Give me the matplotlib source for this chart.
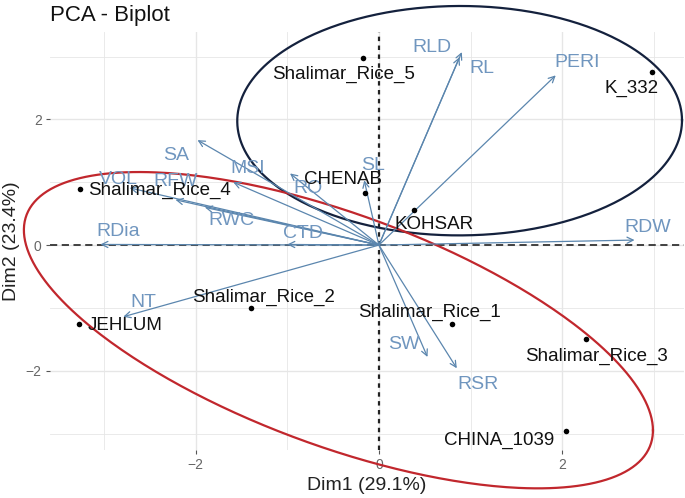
import numpy as np
import matplotlib
matplotlib.use('Agg')
import matplotlib.pyplot as plt

plt.rcParams['font.family'] = ['Liberation Sans', 'DejaVu Sans']

# ---- individuals (Dim1, Dim2 coordinates) ----
ind_names = ['Shalimar_Rice_5', 'K_332', 'CHENAB', 'KOHSAR', 'Shalimar_Rice_4',
             'JEHLUM', 'Shalimar_Rice_2', 'Shalimar_Rice_1', 'Shalimar_Rice_3', 'CHINA_1039']
ind_dim1 = [-0.17, 2.98, -0.15, 0.38, -3.26, -3.27, -1.40, 0.80, 2.26, 2.04]
ind_dim2 = [2.98, 2.75, 0.83, 0.56, 0.89, -1.26, -1.00, -1.26, -1.50, -2.96]

# ---- variables (arrow tips) ----
var_names = ['RLD', 'RL', 'PERI', 'RDW', 'SL', 'RO', 'MSI', 'SA', 'VOL', 'RFW',
             'RWC', 'RDia', 'CTD', 'NT', 'SW', 'RSR']
var_dim1 = [0.905, 0.88, 1.93, 2.79, -0.16, -0.97, -1.59, -1.98, -2.72, -2.22,
            -1.90, -3.04, -1.00, -2.79, 0.53, 0.85]
var_dim2 = [3.07, 2.99, 2.70, 0.08, 1.03, 1.14, 1.00, 1.67, 0.91, 0.72,
            0.60, 0.01, 0.01, -1.14, -1.78, -1.96]

# ---- group ellipses: centre and shape matrix [xx, xy, yy] in data units ----
ellipse_centers = [(0.881, 1.979), (-0.442, -1.354)]
ellipse_shapes = [(5.891, 0.015, 3.330), (11.786, -5.472, 6.331)]
ellipse_colors = ['#14213D', '#C1272D']

# ---- label offsets (pixels) ----
ind_offsets = {
    'Shalimar_Rice_5': (-20, -17, 'center'), 'K_332': (-20, -16, 'center'),
    'CHENAB': (-22, 13, 'center'), 'KOHSAR': (20, -15, 'center'),
    'Shalimar_Rice_4': (8, -1, 'left'), 'JEHLUM': (8, -1, 'left'),
    'Shalimar_Rice_2': (13, 11, 'center'), 'Shalimar_Rice_1': (-23, 12, 'center'),
    'Shalimar_Rice_3': (11, -17, 'center'), 'CHINA_1039': (-12, -9, 'right'),
}
var_offsets = {
    'RLD': (-30, 5), 'RL': (22, -11), 'PERI': (21, 13), 'RDW': (13, 13),
    'SL': (9, 15), 'RO': (18, -15), 'MSI': (14, 14), 'SA': (-21, -15),
    'VOL': (-11, 8), 'RFW': (0, 18), 'RWC': (27, -13), 'RDia': (18, 13),
    'CTD': (16, 11), 'NT': (20, 14), 'SW': (-24, 12), 'RSR': (21, -16),
}

W, H = 685, 498
fig = plt.figure(figsize=(W/100, H/100), dpi=100)
ax = fig.add_axes([50/W, 48/H, 634/W, 418/H])
ax.set_xlim(-3.59, 3.33)
ax.set_ylim(-3.26, 3.39)

# grid
grid_col = '#E6E6E6'
for v in [-2, 0, 2]:
    ax.axvline(v, color=grid_col, lw=1.0, zorder=0)
    ax.axhline(v, color=grid_col, lw=1.0, zorder=0)
for v in [-3, -1, 1, 3]:
    ax.axvline(v, color=grid_col, lw=0.6, zorder=0)
    ax.axhline(v, color=grid_col, lw=0.6, zorder=0)

# dashed origin lines
ax.axhline(0, color='#333333', lw=1.3, ls=(0, (4, 2.5)), zorder=1)
ax.axvline(0, color='#222222', lw=1.6, ls=(0, (2, 2)), zorder=1)

for sp in ax.spines.values():
    sp.set_visible(False)
ax.set_xticks([-2, 0, 2])
ax.set_yticks([-2, 0, 2])
ax.tick_params(axis='both', length=3, width=0.8, color='#555555',
               labelcolor='#666666', labelsize=10, pad=3)

# arrows
arrow_col = '#5B86AE'
text_col = '#7096BF'
for n, x, y in zip(var_names, var_dim1, var_dim2):
    ax.annotate('', xy=(x, y), xytext=(0, 0), zorder=3,
                arrowprops=dict(arrowstyle='->', color=arrow_col, lw=0.9,
                                mutation_scale=11, shrinkA=0, shrinkB=0))
for n, x, y in zip(var_names, var_dim1, var_dim2):
    dx, dy = var_offsets[n]
    ax.annotate(n, xy=(x, y), xytext=(dx, dy), textcoords='offset pixels',
                ha='center', va='center', color=text_col, fontsize=14, zorder=4)

# ellipses
t = np.linspace(0, 2*np.pi, 400)
for c, s, col in zip(ellipse_centers, ellipse_shapes, ellipse_colors):
    M = np.array([[s[0], s[1]], [s[1], s[2]]])
    Lc = np.linalg.cholesky(M)
    pts = np.array(c)[:, None] + Lc @ np.vstack([np.cos(t), np.sin(t)])
    ax.plot(pts[0], pts[1], color=col, lw=1.6, clip_on=False, zorder=2)

# individuals
ax.scatter(ind_dim1, ind_dim2, color='black', s=16, zorder=5, linewidths=0)
for n, x, y in zip(ind_names, ind_dim1, ind_dim2):
    dx, dy, ha = ind_offsets[n]
    ax.annotate(n, xy=(x, y), xytext=(dx, dy), textcoords='offset pixels',
                ha=ha, va='center', color='#111111', fontsize=13.5, zorder=6)

fig.text(50/W, 1 - 15/H, 'PCA - Biplot', fontsize=16, ha='left', va='center',
         color='#111111')
fig.text(367/W, 1 - 485/H, 'Dim1 (29.1%)', fontsize=14, ha='center', va='center',
         color='#222222')
fig.text(12/W, 1 - 241/H, 'Dim2 (23.4%)', fontsize=14, ha='center', va='center',
         rotation=90, color='#222222')

fig.savefig('out.png', dpi=100)
